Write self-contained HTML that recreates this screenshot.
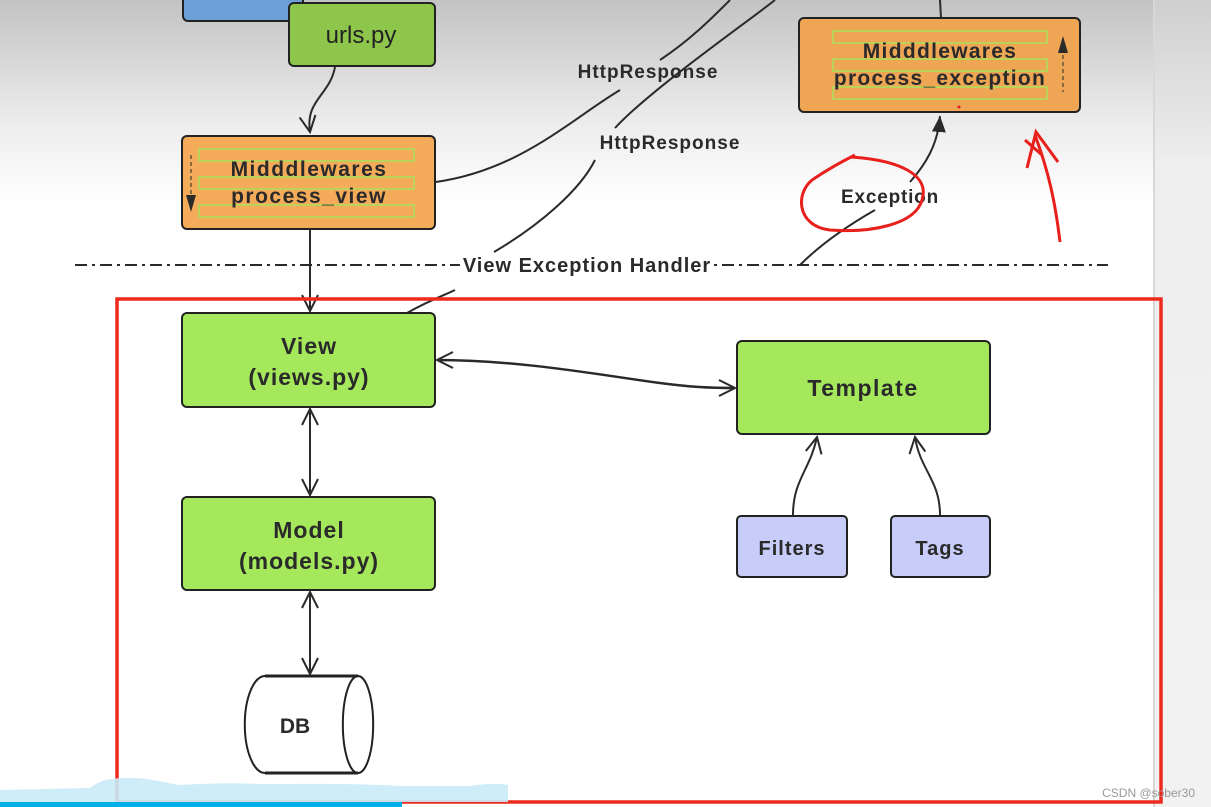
<!DOCTYPE html>
<html><head><meta charset="utf-8"><style>
html,body{margin:0;padding:0;width:1211px;height:807px;overflow:hidden;background:#fff}
svg text{font-family:"Liberation Sans","DejaVu Sans",sans-serif;font-weight:bold;fill:#2a2a2a}
</style></head><body>
<svg width="1211" height="807" viewBox="0 0 1211 807" xmlns="http://www.w3.org/2000/svg">
<defs>
<linearGradient id="bg" x1="0" y1="0" x2="0" y2="1">
<stop offset="0" stop-color="#c3c3c3"/><stop offset="0.15" stop-color="#ececec"/><stop offset="0.25" stop-color="#ffffff"/><stop offset="1" stop-color="#ffffff"/>
</linearGradient>
<linearGradient id="bg2" x1="0" y1="0" x2="0" y2="1">
<stop offset="0" stop-color="#cfcfcf"/><stop offset="0.2" stop-color="#eeeeee"/><stop offset="1" stop-color="#f2f2f2"/>
</linearGradient>
<marker id="open" viewBox="0 0 20 20" refX="18" refY="10" markerWidth="20" markerHeight="20" markerUnits="userSpaceOnUse" orient="auto-start-reverse">
<path d="M2,2 L18,10 L2,18" fill="none" stroke="#2a2a2a" stroke-width="2"/>
</marker>
<marker id="fill" viewBox="0 0 16 22" refX="16" refY="8" markerWidth="16" markerHeight="22" markerUnits="userSpaceOnUse" orient="auto">
<path d="M0,1 L16,8 L0,15 Z" fill="#2a2a2a"/>
</marker>
</defs>
<rect x="0" y="0" width="1211" height="807" fill="url(#bg)"/>
<rect x="1154" y="0" width="57" height="807" fill="url(#bg2)"/>
<line x1="1154" y1="0" x2="1154" y2="807" stroke="#d8d8d8" stroke-width="2"/>

<rect x="183" y="-10" width="120" height="31" rx="5" fill="#6b9fd6" stroke="#222" stroke-width="2"/>
<rect x="289" y="3" width="146" height="63" rx="5" fill="#8ec64c" stroke="#222" stroke-width="2"/>
<text x="361" y="43" text-anchor="middle" font-size="24" style="font-weight:normal;fill:#222">urls.py</text>
<path d="M335,67 C330,95 305,100 310,132" fill="none" stroke="#2a2a2a" stroke-width="2" marker-end="url(#open)"/>

<rect x="182" y="136" width="253" height="93" rx="5" fill="#f4ac5a" stroke="#222" stroke-width="2"/>
<rect x="199" y="149" width="215" height="12" fill="none" stroke="#a8e05a" stroke-width="1.5"/>
<rect x="199" y="177" width="215" height="12" fill="none" stroke="#a8e05a" stroke-width="1.5"/>
<rect x="199" y="205" width="215" height="12" fill="none" stroke="#a8e05a" stroke-width="1.5"/>
<line x1="191" y1="155" x2="191" y2="195" stroke="#8a6a40" stroke-width="2" stroke-dasharray="4,3"/>
<path d="M186,195 L196,195 L191,212 Z" fill="#2a2a2a"/>
<text x="309" y="176" text-anchor="middle" font-size="21" letter-spacing="1.5">Midddlewares</text>
<text x="309" y="203" text-anchor="middle" font-size="21" letter-spacing="1.5">process_view</text>

<path d="M436,182 C520,170 570,120 620,90" fill="none" stroke="#2a2a2a" stroke-width="2"/>
<path d="M660,60 C690,40 710,20 730,0" fill="none" stroke="#2a2a2a" stroke-width="2"/>
<text x="648" y="78" text-anchor="middle" font-size="19" letter-spacing="1">HttpResponse</text>
<path d="M494,252 C540,225 580,190 595,160" fill="none" stroke="#2a2a2a" stroke-width="2"/>
<path d="M615,128 C650,90 750,20 775,0" fill="none" stroke="#2a2a2a" stroke-width="2"/>
<text x="670" y="149" text-anchor="middle" font-size="19" letter-spacing="1">HttpResponse</text>
<path d="M407,313 C430,300 445,295 455,290" fill="none" stroke="#2a2a2a" stroke-width="2"/>

<line x1="940" y1="0" x2="941" y2="18" stroke="#2a2a2a" stroke-width="2"/>
<rect x="799" y="18" width="281" height="94" rx="5" fill="#eea655" stroke="#222" stroke-width="2"/>
<rect x="833" y="31" width="214" height="12" fill="none" stroke="#a8e05a" stroke-width="1.5"/>
<rect x="833" y="59" width="214" height="12" fill="none" stroke="#a8e05a" stroke-width="1.5"/>
<rect x="833" y="87" width="214" height="12" fill="none" stroke="#a8e05a" stroke-width="1.5"/>
<line x1="1063" y1="55" x2="1063" y2="92" stroke="#8a6a40" stroke-width="2" stroke-dasharray="4,3"/>
<path d="M1058,53 L1068,53 L1063,36 Z" fill="#2a2a2a"/>
<text x="940" y="58" text-anchor="middle" font-size="21" letter-spacing="1.3">Midddlewares</text>
<text x="940" y="85" text-anchor="middle" font-size="21" letter-spacing="1.3">process_exception</text>
<circle cx="959" cy="107" r="1.5" fill="#e02020"/>
<path d="M910,182 C925,165 938,145 940,116" fill="none" stroke="#2a2a2a" stroke-width="2" marker-end="url(#fill)"/>
<path d="M800,265 C815,250 840,230 875,210" fill="none" stroke="#2a2a2a" stroke-width="2"/>
<text x="890" y="203" text-anchor="middle" font-size="19" letter-spacing="0.8">Exception</text>
<path d="M850,157 C900,160 930,175 922,200 C915,225 870,233 830,230 C795,226 795,190 815,178 C830,168 845,160 855,155" fill="none" stroke="#e8201c" stroke-width="3"/>
<path d="M1060,242 C1055,200 1048,170 1035,135" fill="none" stroke="#e8201c" stroke-width="3"/>
<path d="M1027,168 L1036,132 L1058,162" fill="none" stroke="#e8201c" stroke-width="3"/>
<path d="M1025,140 L1042,155" fill="none" stroke="#e8201c" stroke-width="3"/>

<line x1="75" y1="265" x2="460" y2="265" stroke="#2a2a2a" stroke-width="2" stroke-dasharray="12,5,3,5"/>
<text x="587" y="272" text-anchor="middle" font-size="20" letter-spacing="1" style="font-weight:bold;fill:#2a2a2a">View Exception Handler</text>
<line x1="714" y1="265" x2="1108" y2="265" stroke="#2a2a2a" stroke-width="2" stroke-dasharray="3,5,12,5"/>

<line x1="310" y1="229" x2="310" y2="311" stroke="#2a2a2a" stroke-width="2" marker-end="url(#open)"/>

<rect x="117" y="299" width="1044" height="503" fill="none" stroke="#ee2a1e" stroke-width="3.5"/>

<rect x="182" y="313" width="253" height="94" rx="5" fill="#a6e85c" stroke="#222" stroke-width="2"/>
<text x="309" y="354" text-anchor="middle" font-size="23" letter-spacing="1">View</text>
<text x="309" y="385" text-anchor="middle" font-size="23" letter-spacing="1">(views.py)</text>
<rect x="737" y="341" width="253" height="93" rx="5" fill="#a6e85c" stroke="#222" stroke-width="2"/>
<text x="863" y="396" text-anchor="middle" font-size="23" letter-spacing="1.5">Template</text>
<path d="M437,360 C520,360 600,375 660,383 C690,387 710,388 735,388" fill="none" stroke="#2a2a2a" stroke-width="2.5" marker-start="url(#open)" marker-end="url(#open)"/>
<rect x="182" y="497" width="253" height="93" rx="5" fill="#a6e85c" stroke="#222" stroke-width="2"/>
<text x="309" y="538" text-anchor="middle" font-size="23" letter-spacing="1">Model</text>
<text x="309" y="569" text-anchor="middle" font-size="23" letter-spacing="1">(models.py)</text>
<line x1="310" y1="409" x2="310" y2="495" stroke="#2a2a2a" stroke-width="2" marker-start="url(#open)" marker-end="url(#open)"/>
<line x1="310" y1="592" x2="310" y2="674" stroke="#2a2a2a" stroke-width="2" marker-start="url(#open)" marker-end="url(#open)"/>

<rect x="737" y="516" width="110" height="61" rx="4" fill="#c8ccf8" stroke="#222" stroke-width="2"/>
<text x="792" y="555" text-anchor="middle" font-size="20" letter-spacing="1">Filters</text>
<rect x="891" y="516" width="99" height="61" rx="4" fill="#c8ccf8" stroke="#222" stroke-width="2"/>
<text x="940" y="555" text-anchor="middle" font-size="20" letter-spacing="1">Tags</text>
<path d="M793,515 C793,480 810,470 817,437" fill="none" stroke="#2a2a2a" stroke-width="2" marker-end="url(#open)"/>
<path d="M940,515 C940,480 920,470 915,437" fill="none" stroke="#2a2a2a" stroke-width="2" marker-end="url(#open)"/>

<path d="M265,676 L358,676 A15,48 0 0 1 358,773 L265,773 A20,48 0 0 1 265,676 Z" fill="#fff" stroke="#222" stroke-width="2"/>
<path d="M358,676 A15,48 0 0 0 358,773" fill="none" stroke="#222" stroke-width="2"/>
<line x1="265" y1="676" x2="358" y2="676" stroke="#222" stroke-width="3"/>
<line x1="265" y1="773" x2="358" y2="773" stroke="#222" stroke-width="3"/>
<text x="295" y="733" text-anchor="middle" font-size="21">DB</text>

<path d="M0,790 L90,788 C100,780 110,778 130,778 C150,778 160,782 180,785 C210,783 240,783 260,784 C300,784 350,783 400,786 L470,786 C480,784 500,783 508,785 L508,802 L0,802 Z" fill="#c9ebf8" opacity="0.9"/>
<rect x="0" y="802" width="402" height="5" fill="#00aee8"/>
<text x="1195" y="797" text-anchor="end" font-size="12" style="font-weight:normal;fill:#999">CSDN @sober30</text>
</svg>
</body></html>
